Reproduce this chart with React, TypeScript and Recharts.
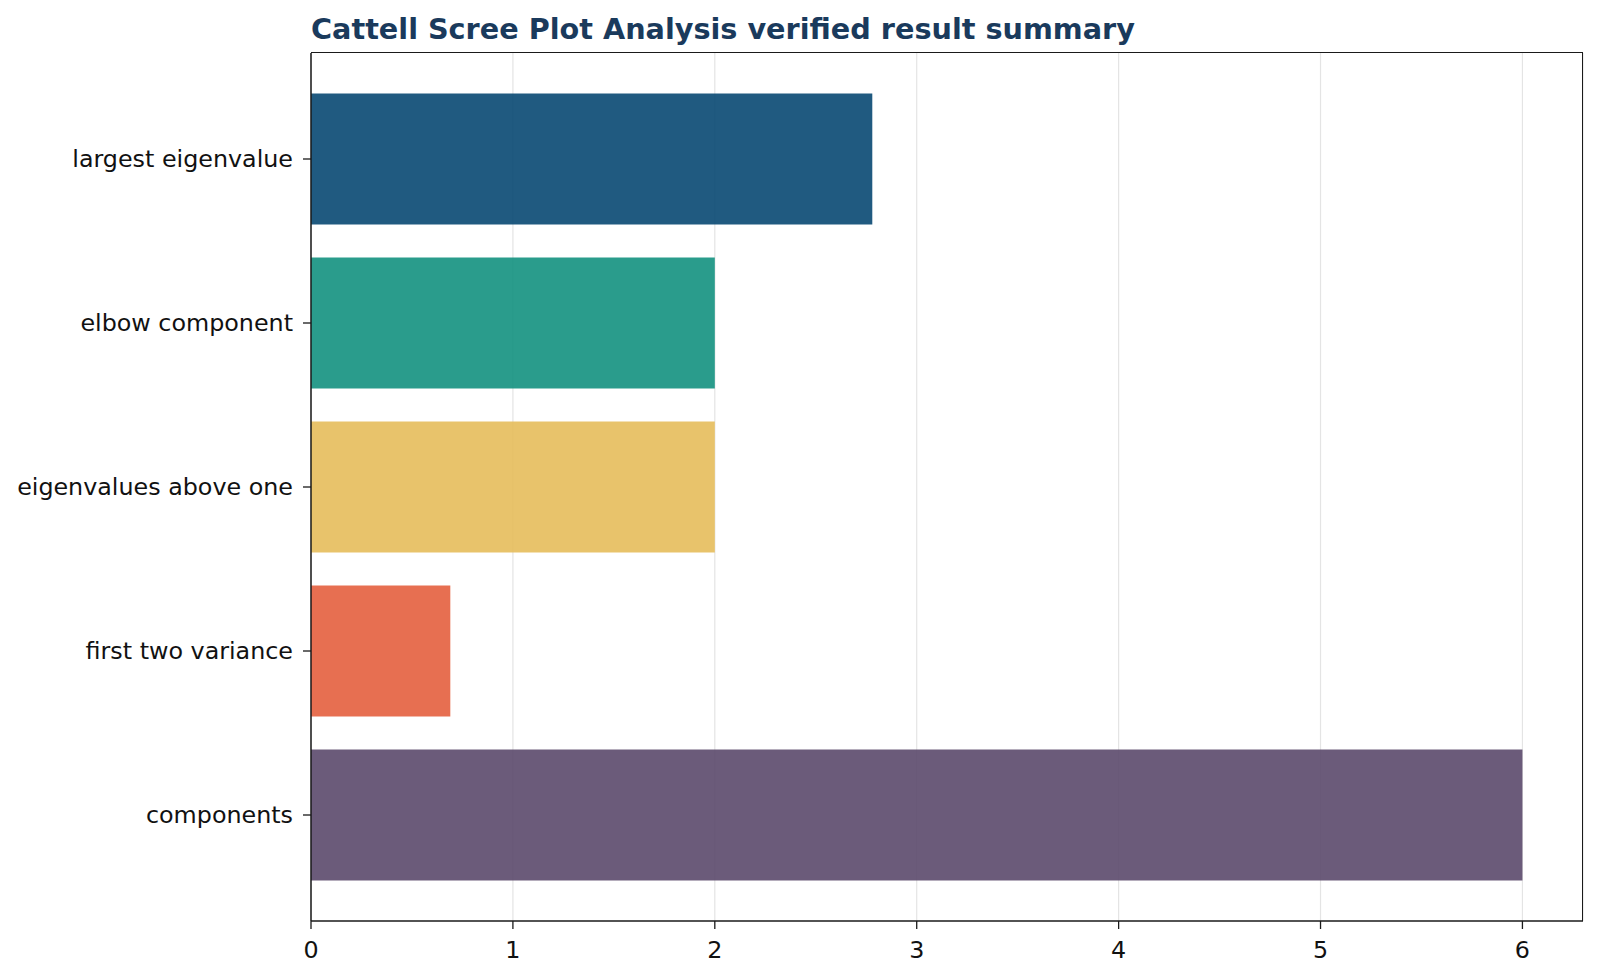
import { BarChart, Bar, Cell, XAxis, YAxis, CartesianGrid } from "recharts"

const categories = [
  "largest eigenvalue",
  "elbow component",
  "eigenvalues above one",
  "first two variance",
  "components",
]
const values = [2.78, 2, 2, 0.69, 6]
const barColors = ["#084872", "#13917f", "#e5bd5b", "#e45f3e", "#5b496c"]
const xTicks = [0, 1, 2, 3, 4, 5, 6]

const FONT = "'DejaVu Sans', sans-serif"
const SPINE = "#1a1a1a"

// plot box (matches the chart margins below)
const PLOT_LEFT = 311
const PLOT_TOP = 53
const PLOT_RIGHT = 1583
const PLOT_BOTTOM = 921

const chartData = categories.map((name, i) => ({ name, value: values[i] }))

export default function App() {
  return (
    <div
      style={{
        position: "absolute",
        left: 0,
        top: 0,
        width: 1600,
        height: 978,
        background: "#fff",
        fontFamily: FONT,
      }}
    >
      <div
        style={{
          position: "absolute",
          left: 311,
          top: 15,
          fontSize: 28.7,
          lineHeight: 1,
          fontWeight: "bold",
          color: "#1a3a5c",
          whiteSpace: "nowrap",
        }}
      >
        Cattell Scree Plot Analysis verified result summary
      </div>
      <BarChart
        width={1600}
        height={978}
        data={chartData}
        layout="vertical"
        margin={{ top: PLOT_TOP, right: 1600 - PLOT_RIGHT, bottom: 978 - PLOT_BOTTOM - 50, left: 0 }}
        barCategoryGap="10%"
      >
        <CartesianGrid horizontal={false} stroke="#e4e4e4" strokeWidth={1.2} />
        <XAxis
          type="number"
          domain={[0, 6.3]}
          ticks={xTicks}
          allowDataOverflow
          height={50}
          tickSize={8}
          tickMargin={12}
          axisLine={{ stroke: SPINE, strokeWidth: 1.5 }}
          tickLine={{ stroke: SPINE, strokeWidth: 1.3 }}
          tick={{ fill: "#111", fontSize: 23.8, fontFamily: FONT }}
        />
        <YAxis
          type="category"
          dataKey="name"
          width={PLOT_LEFT}
          padding={{ top: 24, bottom: 24 }}
          tickSize={8}
          tickMargin={10}
          interval={0}
          axisLine={{ stroke: SPINE, strokeWidth: 1.5 }}
          tickLine={{ stroke: SPINE, strokeWidth: 1.3 }}
          tick={{ fill: "#111", fontSize: 23.8, fontFamily: FONT }}
        />
        <Bar dataKey="value" fillOpacity={0.9} isAnimationActive={false}>
          {chartData.map((entry, i) => (
            <Cell key={entry.name} fill={barColors[i]} />
          ))}
        </Bar>
      </BarChart>
      {/* top and right spines */}
      <div
        style={{
          position: "absolute",
          left: PLOT_LEFT,
          top: PLOT_TOP - 0.75,
          width: PLOT_RIGHT - PLOT_LEFT - 0.75,
          height: PLOT_BOTTOM - PLOT_TOP,
          borderTop: `1.5px solid ${SPINE}`,
          borderRight: `1.5px solid ${SPINE}`,
          pointerEvents: "none",
        }}
      />
    </div>
  )
}
